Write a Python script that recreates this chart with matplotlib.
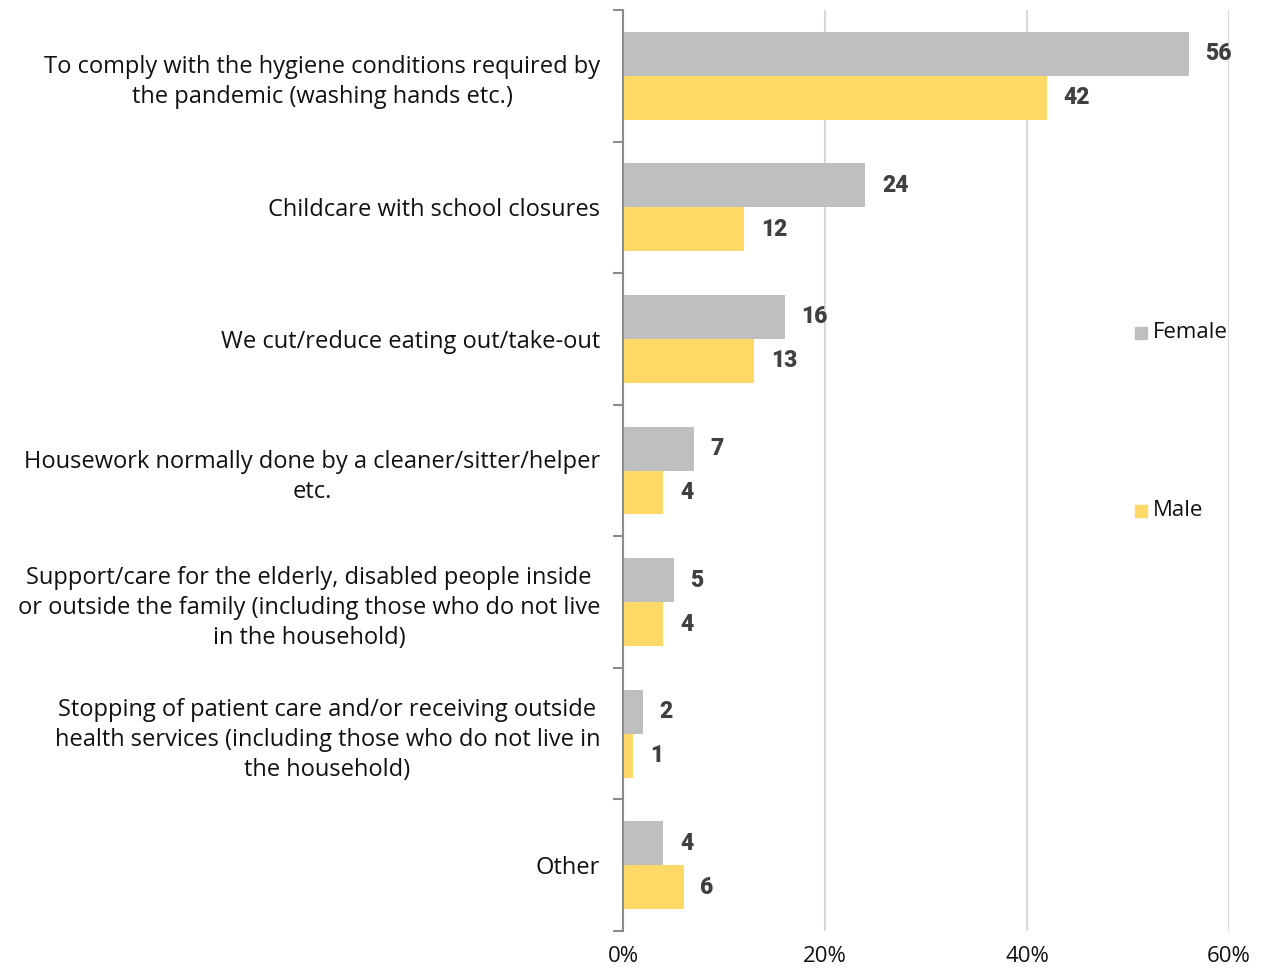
import matplotlib
matplotlib.use("Agg")
import matplotlib.pyplot as plt
import numpy as np
from matplotlib.patches import Rectangle

categories = [
    "To comply with the hygiene conditions required by\nthe pandemic (washing hands etc.)",
    "Childcare with school closures",
    "We cut/reduce eating out/take-out",
    "Housework normally done by a cleaner/sitter/helper\netc.",
    "Support/care for the elderly, disabled people inside\nor outside the family (including those who do not live\nin the household)",
    "Stopping of patient care and/or receiving outside\nhealth services (including those who do not live in\nthe household)",
    "Other",
]
female = [56, 24, 16, 7, 5, 2, 4]
male = [42, 12, 13, 4, 4, 1, 6]
series_names = ["Female", "Male"]
x_ticks = [0, 20, 40, 60]
x_tick_labels = ["0%", "20%", "40%", "60%"]

GRAY = "#BFBFBF"
YELLOW = "#FFD966"
LABEL_COLOR = "#404040"
FONT = "Open Sans"

plt.rcParams["font.family"] = [FONT, "DejaVu Sans"]

fig = plt.figure(figsize=(12.67, 9.72), dpi=100)
ax = fig.add_axes([623 / 1267, 1 - 931 / 972, (1229 - 623) / 1267, (931 - 10) / 972])

n = len(categories)
y = np.arange(n)
h = 0.334

ax.barh(y - h / 2, female, height=h, color=GRAY, zorder=3, label=series_names[0])
ax.barh(y + h / 2, male, height=h, color=YELLOW, zorder=3, label=series_names[1])

for offs, vals in [(-h / 2, female), (h / 2, male)]:
    for yi, v in zip(y + offs, vals):
        ax.annotate(str(v), (v, yi), xytext=(12, 0), textcoords="offset points",
                    va="center", ha="left", fontsize=16.5, fontweight="black",
                    color=LABEL_COLOR, family=["Roboto", "DejaVu Sans"])

ax.set_ylim(n - 0.5, -0.5)
ax.set_xlim(0, 60)
ax.set_yticks(y)
ax.set_yticklabels(categories, fontsize=17, color="#111111", multialignment="center",
                   linespacing=1.34)
ax.tick_params(axis="y", length=0, pad=16.5)
ax.set_yticks(np.arange(-0.5, n, 1.0), minor=True)
ax.tick_params(axis="y", which="minor", length=7, width=1.5, color="#8C8C8C", direction="out")

ax.set_xticks(x_ticks)
ax.set_xticklabels(x_tick_labels, fontsize=16, color="#111111")
ax.tick_params(axis="x", length=0, pad=11)
ax.grid(axis="x", color="#D9D9D9", linewidth=1.5, zorder=0)

for side in ["top", "right", "bottom"]:
    ax.spines[side].set_visible(False)
ax.spines["left"].set_color("#8C8C8C")
ax.spines["left"].set_linewidth(1.5)
ax.spines["left"].set_zorder(4)

# legend entries placed on the right side
for name, color, ypx in [(series_names[0], GRAY, 333), (series_names[1], YELLOW, 511)]:
    fig.patches.append(Rectangle((1135 / 1267, 1 - (ypx + 6) / 972), 12 / 1267, 12 / 972,
                                 transform=fig.transFigure, color=color, figure=fig))
    fig.text(1153 / 1267, 1 - ypx / 972, name, fontsize=16, color="#111111",
             va="center", ha="left")

fig.savefig("out.png", dpi=100)
